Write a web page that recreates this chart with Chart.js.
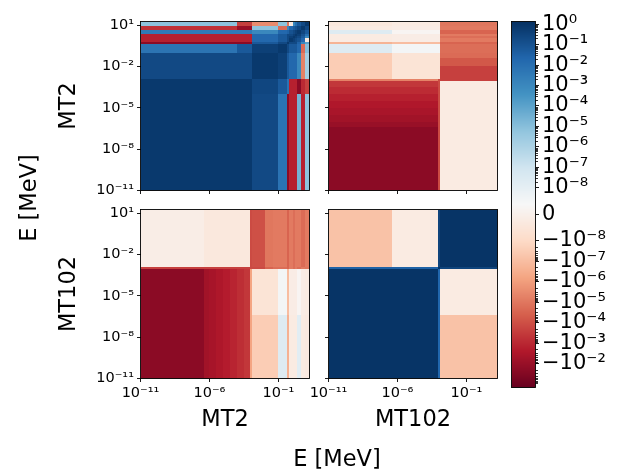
<!DOCTYPE html>
<html>
<head>
<meta charset="utf-8">
<title>Covariance matrix MT2 / MT102</title>
<script src="https://cdn.jsdelivr.net/npm/chart.js@4.4.1/dist/chart.umd.min.js"></script>
<style>
  html, body { margin:0; padding:0; background:#ffffff; }
  #fig { position:relative; width:618px; height:473px; overflow:hidden; background:#ffffff; }
  #fig canvas { position:absolute; left:0; top:0; }
  .lbl { position:absolute; font-family:"DejaVu Sans", sans-serif; font-size:22.5px; line-height:1; color:#000; white-space:nowrap; transform:translate(-50%,-50%); }
  .rot { transform:translate(-50%,-50%) rotate(-90deg); }
</style>
</head>
<body>
<div id="fig">
  <canvas id="cTL" width="618" height="473"></canvas>
  <canvas id="cTR" width="618" height="473"></canvas>
  <canvas id="cBL" width="618" height="473"></canvas>
  <canvas id="cBR" width="618" height="473"></canvas>
  <canvas id="cCB" width="618" height="473"></canvas>
  <div class="lbl rot" style="left:67px;top:106px">MT2</div>
  <div class="lbl rot" style="left:67px;top:294px">MT102</div>
  <div class="lbl rot" style="left:28px;top:198px">E [MeV]</div>
  <div class="lbl" style="left:225px;top:418px">MT2</div>
  <div class="lbl" style="left:413px;top:418px">MT102</div>
  <div class="lbl" style="left:337px;top:458px">E [MeV]</div>
</div>
<script>
// ---------------- data ----------------
// energy group boundaries (MeV)
const mt2Edges = [1e-11, 4e-7, 1e-6, 3e-6, 1e-5, 3e-5, 1e-4, 3e-4, 9e-4, 1.2e-3, 0.01, 0.04, 0.1, 0.4, 0.63, 1.07, 1.55, 2.4, 4.3, 8.3, 18];
const mt102Edges = [1e-11, 4e-7, 9e-4, 1.2e-3, 18];

// axis ticks
const xTickValues = [1e-11, 1e-6, 1e-1];
const xTickLabels = ['10⁻¹¹', '10⁻⁶', '10⁻¹'];
const yTickValues = [1e-11, 1e-8, 1e-5, 1e-2, 1e1];
const yTickLabels = ['10⁻¹¹', '10⁻⁸', '10⁻⁵', '10⁻²', '10¹'];
const cbarTickValues = [1, 1e-1, 1e-2, 1e-3, 1e-4, 1e-5, 1e-6, 1e-7, 1e-8, 0, -1e-8, -1e-7, -1e-6, -1e-5, -1e-4, -1e-3, -1e-2];
const cbarTickLabels = ['10⁰', '10⁻¹', '10⁻²', '10⁻³', '10⁻⁴', '10⁻⁵', '10⁻⁶', '10⁻⁷', '10⁻⁸', '0', '−10⁻⁸', '−10⁻⁷', '−10⁻⁶', '−10⁻⁵', '−10⁻⁴', '−10⁻³', '−10⁻²'];

// colour range of the symlog norm
const cbarMin = -0.148;
const cbarMax = 1.35;

// rows = y energy group (low -> high), columns = x energy group (low -> high)
const covMT2MT2 = [
  [0.7,0.7,0.7,0.7,0.7,0.7,0.7,0.7,0.7, 0.2,0.2,0.2, 6.5e-3, -0.021, -1.5e-3,-1.5e-3,-1.5e-3, 2.6e-5, -1.5e-3, 7e-6],
  [0.7,0.7,0.7,0.7,0.7,0.7,0.7,0.7,0.7, 0.2,0.2,0.2, 6.5e-3, -0.021, -1.5e-3,-1.5e-3,-1.5e-3, 2.6e-5, -1.5e-3, 7e-6],
  [0.7,0.7,0.7,0.7,0.7,0.7,0.7,0.7,0.7, 0.2,0.2,0.2, 6.5e-3, -0.021, -1.5e-3,-1.5e-3,-1.5e-3, 2.6e-5, -1.5e-3, 7e-6],
  [0.7,0.7,0.7,0.7,0.7,0.7,0.7,0.7,0.7, 0.2,0.2,0.2, 6.5e-3, -0.021, -1.5e-3,-1.5e-3,-1.5e-3, 2.6e-5, -1.5e-3, 7e-6],
  [0.7,0.7,0.7,0.7,0.7,0.7,0.7,0.7,0.7, 0.2,0.2,0.2, 6.5e-3, -0.021, -1.5e-3,-1.5e-3,-1.5e-3, 2.6e-5, -1.5e-3, 7e-6],
  [0.7,0.7,0.7,0.7,0.7,0.7,0.7,0.7,0.7, 0.2,0.2,0.2, 6.5e-3, -0.021, -1.5e-3,-1.5e-3,-1.5e-3, 2.6e-5, -1.5e-3, 7e-6],
  [0.7,0.7,0.7,0.7,0.7,0.7,0.7,0.7,0.7, 0.25,0.25,0.25, 0.06, 6.5e-3, -1.5e-3,-1.5e-3,-1.5e-3, -0.021, -9e-4, -2.4e-4],
  [0.7,0.7,0.7,0.7,0.7,0.7,0.7,0.7,0.7, 0.25,0.25,0.25, 0.06, 6.5e-3, -1.5e-3,-1.5e-3,-1.5e-3, -0.021, -9e-4, -2.4e-4],
  [0.7,0.7,0.7,0.7,0.7,0.7,0.7,0.7,0.7, 0.25,0.25,0.25, 0.06, 6.5e-3, -1.5e-3,-1.5e-3,-1.5e-3, -0.021, -9e-4, -2.4e-4],
  [0.2,0.2,0.2,0.2,0.2,0.2,0.2,0.2,0.2, 0.7,0.7,0.7, 0.4, 0.06, 0.018,0.018,0.018, 1e-3, -5e-6, 1.7e-6],
  [0.2,0.2,0.2,0.2,0.2,0.2,0.2,0.2,0.2, 0.7,0.7,0.7, 0.4, 0.06, 0.018,0.018,0.018, 1e-3, -5e-6, 1.7e-6],
  [0.2,0.2,0.2,0.2,0.2,0.2,0.2,0.2,0.2, 0.7,0.7,0.7, 0.4, 0.06, 0.018,0.018,0.018, 1e-3, -5e-6, 1.7e-6],
  [6e-3,6e-3,6e-3,6e-3,6e-3,6e-3, 0.06,0.06,0.06, 0.4,0.4,0.4, 0.7, 0.2, 0.06,0.06,0.06, 0.018, -2e-5, 1e-5],
  [-0.021,-0.021,-0.021,-0.021,-0.021,-0.021,-0.021,-0.021,-0.021, 0.06,0.06,0.06, 0.2, 0.7, 0.2,0.2,0.2, 0.03, 1e-3, 1e-4],
  [-1.5e-3,-1.5e-3,-1.5e-3,-1.5e-3,-1.5e-3,-1.5e-3,-1.5e-3,-1.5e-3,-1.5e-3, 0.018,0.018,0.018, 0.06, 0.2, 0.7, 0.4, 0.2, 0.1, 0.02, -3e-9],
  [-1.5e-3,-1.5e-3,-1.5e-3,-1.5e-3,-1.5e-3,-1.5e-3,-1.5e-3,-1.5e-3,-1.5e-3, 0.018,0.018,0.018, 0.06, 0.2, 0.4, 0.7, 0.4, 0.2, 0.05, 1e-3],
  [-1.5e-3,-1.5e-3,-1.5e-3,-1.5e-3,-1.5e-3,-1.5e-3,-1.5e-3,-1.5e-3,-1.5e-3, 0.018,0.018,0.018, 0.06, 0.2, 0.2, 0.4, 0.7, 0.4, 0.1, 0.01],
  [3.4e-3,3.4e-3,3.4e-3,3.4e-3,3.4e-3,3.4e-3,3.4e-3,3.4e-3,3.4e-3, 1e-3,1e-3,1e-3, 0.018, 0.03, 0.1, 0.2, 0.4, 0.7, 0.25, 0.06],
  [-5.6e-4,-5.6e-4,-5.6e-4,-5.6e-4,-5.6e-4,-5.6e-4, -0.01,-0.01,-0.01, 7e-6,7e-6,7e-6, -2e-5, 1e-3, 0.02, 0.05, 0.1, 0.25, 0.7, 0.2],
  [7e-6,7e-6,7e-6,7e-6,7e-6,7e-6, -2.4e-4,-2.4e-4,-2.4e-4, -3e-6,-3e-6,-3e-6, 7e-6, -1e-5, -3e-9, 1e-3, 0.01, 0.06, 0.2, 0.7]
];

const covMT2MT102 = [
  [-0.021, -0.021, -1.3e-4, -2.2e-9],
  [-0.01, -0.01, -1.3e-4, -2.2e-9],
  [-6e-3, -6e-3, -1.3e-4, -2.2e-9],
  [-4e-3, -4e-3, -1.3e-4, -2.2e-9],
  [-2.7e-3, -2.7e-3, -1.3e-4, -2.2e-9],
  [-1.5e-3, -1.5e-3, -1.3e-4, -2.2e-9],
  [-8e-4, -8e-4, -1.3e-4, -2.2e-9],
  [-4e-4, -4e-4, -1.3e-4, -2.2e-9],
  [-5e-6, -5e-6, -1.3e-4, -2.4e-4],
  [-3e-8, -5.7e-9, -5.7e-9, -2.4e-4],
  [-3e-8, -5.7e-9, -5.7e-9, -6e-5],
  [-3e-8, -5.7e-9, -5.7e-9, -2e-5],
  [2.3e-8, 5e-9, 5e-9, -1.7e-5],
  [-2.1e-7, -1e-7, -1e-7, -3e-5],
  [-2.2e-9, -1.5e-9, -1.5e-9, -8e-6],
  [-2.2e-9, -1.5e-9, -1.5e-9, -1.7e-5],
  [-2.2e-9, -1.5e-9, -1.5e-9, -8e-6],
  [2.3e-8, 2.3e-9, 2.3e-9, -3e-5],
  [-2.2e-9, -1.5e-9, -1.5e-9, -8e-6],
  [-3.8e-9, -2.2e-9, -2.2e-9, -1e-5]
];

const covMT102MT2 = [
  [-0.021, -6e-3, -4.5e-3, -3e-3, -2e-3, -1.2e-3, -7e-4, -4e-4, -6.3e-7, -3e-8, -3e-8, -3e-8, 2.3e-8, -2.5e-7, -2.2e-9, -2.2e-9, -2.2e-9, 1.5e-8, -2.2e-9, -3e-9],
  [-0.021, -6e-3, -4.5e-3, -3e-3, -2e-3, -1.2e-3, -7e-4, -4e-4, -6.3e-7, -5.7e-9, -5.7e-9, -5.7e-9, 5e-9, -1e-7, -1.5e-9, -1.5e-9, -1.5e-9, 2.3e-9, -1.5e-9, -2.2e-9],
  [-2.4e-4, -2.4e-4, -2.4e-4, -2.4e-4, -2.4e-4, -2.4e-4, -2.4e-4, -2.4e-4, -1.3e-4, -1.3e-4, -3e-5, -1.7e-5, -1.7e-5, -3e-5, -8e-6, -1.7e-5, -8e-6, -1.7e-5, -8e-6, -1e-5],
  [-1.2e-9, -3.8e-9, -3.8e-9, -3.8e-9, -3.8e-9, -3.8e-9, -3.8e-9, -3.8e-9, -1.3e-4, -9.5e-5, -1e-5, -8e-6, -8e-6, -3e-5, -8e-6, -1.7e-5, -8e-6, -8e-6, -2e-5, -8e-6]
];

const covMT102MT102 = [
  [1.0, 1.0, 0.022, -6.8e-8],
  [1.0, 1.0, 0.022, -2.2e-9],
  [0.03, 0.03, 1.0, 0.3],
  [-6.8e-8, -2.2e-9, 0.3, 1.0]
];

// ---------------- colour handling (symlog norm + RdBu) ----------------
const LIN_THRESH = 1e-8;
const LIN_UNITS = 1.3;
function symlog(v) {
  const a = Math.abs(v);
  if (a <= LIN_THRESH) return LIN_UNITS * v / LIN_THRESH;
  return Math.sign(v) * (LIN_UNITS + Math.log10(a / LIN_THRESH));
}
const T_MIN = symlog(cbarMin);
const T_MAX = symlog(cbarMax);
const RDBU = [[103,0,31],[178,24,43],[214,96,77],[244,165,130],[253,219,199],[247,247,247],[209,229,240],[146,197,222],[67,147,195],[33,102,172],[5,48,97]];
function cmap(p) {
  p = Math.min(1, Math.max(0, p));
  const s = p * 10;
  const i = Math.min(9, Math.floor(s));
  const f = s - i;
  const a = RDBU[i], b = RDBU[i + 1];
  return 'rgb(' + Math.round(a[0] + (b[0] - a[0]) * f) + ',' + Math.round(a[1] + (b[1] - a[1]) * f) + ',' + Math.round(a[2] + (b[2] - a[2]) * f) + ')';
}
function colorOfT(t) { return cmap((t - T_MIN) / (T_MAX - T_MIN)); }
function colorOf(v) { return colorOfT(symlog(v)); }

// ---------------- charts ----------------
const FIG_W = 618, FIG_H = 473;
const Y_AXIS_W = 70, X_AXIS_H = 40;
const FONT = 'DejaVu Sans';

function framePlugin(id) {
  return {
    id: 'frame_' + id,
    afterDraw(chart) {
      const { ctx, chartArea: a } = chart;
      ctx.save();
      ctx.strokeStyle = '#000';
      ctx.lineWidth = 0.9;
      ctx.strokeRect(a.left, a.top, a.right - a.left, a.bottom - a.top);
      ctx.restore();
    }
  };
}

function heatChart(canvasId, box, xEdges, yEdges, matrix, showX, showY) {
  const heat = {
    id: 'heat_' + canvasId,
    beforeDatasetsDraw(chart) {
      const { ctx, chartArea: a, scales } = chart;
      const xs = scales.x, ys = scales.y;
      ctx.save();
      ctx.beginPath();
      ctx.rect(a.left, a.top, a.right - a.left, a.bottom - a.top);
      ctx.clip();
      for (let i = 0; i < yEdges.length - 1; i++) {
        const yb = Math.round(ys.getPixelForValue(yEdges[i]));
        const yt = Math.round(ys.getPixelForValue(yEdges[i + 1]));
        for (let j = 0; j < xEdges.length - 1; j++) {
          const xl = Math.round(xs.getPixelForValue(xEdges[j]));
          const xr = Math.round(xs.getPixelForValue(xEdges[j + 1]));
          ctx.fillStyle = colorOf(matrix[i][j]);
          ctx.fillRect(xl, yt, Math.max(1, xr - xl), Math.max(1, yb - yt));
        }
      }
      ctx.restore();
    }
  };
  const tickFont = { family: FONT, size: 14.5 };
  return new Chart(document.getElementById(canvasId), {
    type: 'scatter',
    data: { datasets: [{ data: [] }] },
    options: {
      responsive: false,
      animation: false,
      devicePixelRatio: 1,
      events: [],
      layout: { padding: { left: box.l - Y_AXIS_W, top: box.t, right: FIG_W - box.r, bottom: FIG_H - box.b - X_AXIS_H } },
      plugins: { legend: { display: false }, tooltip: { enabled: false }, title: { display: false } },
      scales: {
        x: {
          type: 'logarithmic', position: 'bottom', min: xEdges[0], max: xEdges[xEdges.length - 1], bounds: 'data',
          afterBuildTicks(s) { s.ticks = xTickValues.map(v => ({ value: v })); },
          afterFit(s) { s.height = X_AXIS_H; },
          ticks: { display: showX, autoSkip: false, maxRotation: 0, minRotation: 0, color: '#000', font: tickFont, padding: 3,
                   callback: (v, i) => xTickLabels[i] },
          grid: { display: true, drawOnChartArea: false, drawTicks: true, tickLength: 3.5, tickWidth: 0.9, tickColor: '#000' },
          border: { display: false }
        },
        y: {
          type: 'logarithmic', position: 'left', min: yEdges[0], max: yEdges[yEdges.length - 1], bounds: 'data',
          afterBuildTicks(s) { s.ticks = yTickValues.map(v => ({ value: v })); },
          afterFit(s) { s.width = Y_AXIS_W; },
          ticks: { display: showY, autoSkip: false, color: '#000', font: tickFont, padding: 3,
                   callback: (v, i) => yTickLabels[i] },
          grid: { display: true, drawOnChartArea: false, drawTicks: true, tickLength: 3.5, tickWidth: 0.9, tickColor: '#000' },
          border: { display: false }
        }
      }
    },
    plugins: [heat, framePlugin(canvasId)]
  });
}

const boxTL = { l: 140.5, r: 309.5, t: 21.5, b: 190.5 };
const boxTR = { l: 328.5, r: 497.5, t: 21.5, b: 190.5 };
const boxBL = { l: 140.5, r: 309.5, t: 209.5, b: 378.5 };
const boxBR = { l: 328.5, r: 497.5, t: 209.5, b: 378.5 };

heatChart('cTL', boxTL, mt2Edges, mt2Edges, covMT2MT2, false, true);
heatChart('cTR', boxTR, mt102Edges, mt2Edges, covMT2MT102, false, false);
heatChart('cBL', boxBL, mt2Edges, mt102Edges, covMT102MT2, true, true);
heatChart('cBR', boxBR, mt102Edges, mt102Edges, covMT102MT102, true, false);

// colour bar
const boxCB = { l: 511.5, r: 535.5, t: 21.5, b: 387.5 };
const CB_AXIS_W = 80;
const cbPlugin = {
  id: 'cbar',
  beforeDatasetsDraw(chart) {
    const { ctx, chartArea: a, scales } = chart;
    const ys = scales.y;
    ctx.save();
    ctx.beginPath();
    ctx.rect(a.left, a.top, a.right - a.left, a.bottom - a.top);
    ctx.clip();
    for (let py = Math.floor(a.top); py < Math.ceil(a.bottom); py++) {
      ctx.fillStyle = colorOfT(ys.getValueForPixel(py + 0.5));
      ctx.fillRect(a.left, py, a.right - a.left, 1);
    }
    ctx.restore();
  },
  afterDraw(chart) {
    const { ctx, chartArea: a, scales } = chart;
    const ys = scales.y;
    ctx.save();
    ctx.strokeStyle = '#000';
    ctx.lineWidth = 0.8;
    ctx.beginPath();
    for (const sgn of [1, -1]) {
      for (let k = -8; k <= 0; k++) {
        for (let m = 2; m <= 9; m++) {
          const v = sgn * m * Math.pow(10, k);
          if (v > cbarMax || v < cbarMin) continue;
          const py = Math.round(ys.getPixelForValue(symlog(v))) + 0.5;
          ctx.moveTo(a.right, py);
          ctx.lineTo(a.right + 2.5, py);
        }
      }
    }
    ctx.stroke();
    ctx.lineWidth = 0.9;
    ctx.strokeRect(a.left, a.top, a.right - a.left, a.bottom - a.top);
    ctx.restore();
  }
};
new Chart(document.getElementById('cCB'), {
  type: 'scatter',
  data: { datasets: [{ data: [] }] },
  options: {
    responsive: false,
    animation: false,
    devicePixelRatio: 1,
    events: [],
    layout: { padding: { left: boxCB.l, top: boxCB.t, right: FIG_W - boxCB.r - CB_AXIS_W, bottom: FIG_H - boxCB.b } },
    plugins: { legend: { display: false }, tooltip: { enabled: false } },
    scales: {
      x: { display: false, min: 0, max: 1 },
      y: {
        type: 'linear', position: 'right', min: T_MIN, max: T_MAX, bounds: 'data',
        afterBuildTicks(s) { s.ticks = cbarTickValues.map(v => ({ value: symlog(v) })); },
        afterFit(s) { s.width = CB_AXIS_W; },
        ticks: { autoSkip: false, color: '#000', font: { family: FONT, size: 21 }, padding: 3,
                 callback: (v, i) => cbarTickLabels[i] },
        grid: { display: true, drawOnChartArea: false, drawTicks: true, tickLength: 3.5, tickWidth: 0.9, tickColor: '#000' },
        border: { display: false }
      }
    }
  },
  plugins: [cbPlugin]
});
</script>
</body>
</html>
